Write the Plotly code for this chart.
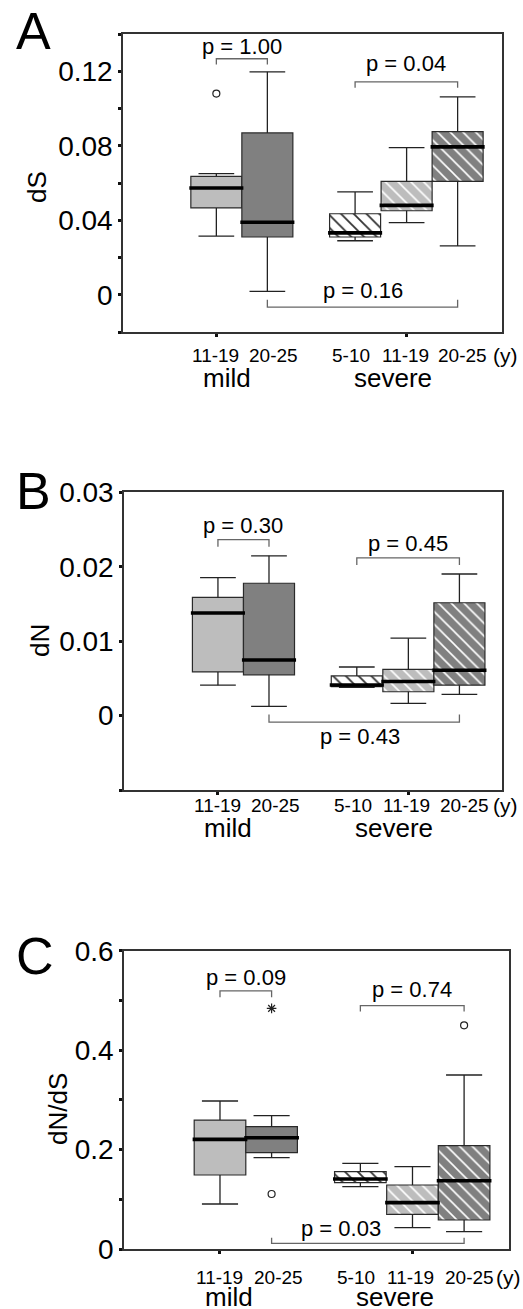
import plotly.graph_objects as go

W, H = 523, 1309
FONT = "Liberation Sans, Arial, sans-serif"

# ---------------- data ----------------
groups = ["mild", "severe"]
age_labels = ["11-19", "20-25", "5-10", "11-19", "20-25"]
unit_label = "(y)"
positions = [0, 1, 2.72, 3.73, 4.73]
group_tick_pos = [0, 3.73]

# panel A: dS
dS_low = [0.0315, 0.0018, 0.0290, 0.0387, 0.0262]
dS_q1 = [0.0466, 0.0310, 0.0310, 0.0451, 0.0609]
dS_med = [0.0573, 0.0389, 0.0332, 0.0480, 0.0794]
dS_q3 = [0.0636, 0.0869, 0.0435, 0.0609, 0.0876]
dS_high = [0.0650, 0.1197, 0.0552, 0.0790, 0.1062]
dS_out_idx = [0]
dS_out_val = [0.108]
dS_ext_idx = []
dS_ext_val = []
dS_ticks = [0, 0.04, 0.08, 0.12]
dS_ticktext = ["0", "0.04", "0.08", "0.12"]
dS_p = ["p = 1.00", "p = 0.04", "p = 0.16"]

# panel B: dN
dN_low = [0.00409, 0.00124, 0.00378, 0.00164, 0.00284]
dN_q1 = [0.00587, 0.00547, 0.00390, 0.00320, 0.00409]
dN_med = [0.01378, 0.00747, 0.00410, 0.00458, 0.00609]
dN_q3 = [0.01587, 0.01778, 0.00533, 0.00622, 0.01516]
dN_high = [0.01853, 0.02147, 0.00653, 0.01040, 0.01902]
dN_out_idx = []
dN_out_val = []
dN_ext_idx = []
dN_ext_val = []
dN_ticks = [0, 0.01, 0.02, 0.03]
dN_ticktext = ["0", "0.01", "0.02", "0.03"]
dN_p = ["p = 0.30", "p = 0.45", "p = 0.43"]

# panel C: dN/dS
r_low = [0.0905, 0.1837, 0.1254, 0.0429, 0.0349]
r_q1 = [0.1488, 0.1937, 0.1334, 0.0697, 0.0583]
r_med = [0.2206, 0.2239, 0.1408, 0.0932, 0.1374]
r_q3 = [0.2594, 0.2460, 0.1555, 0.1287, 0.2078]
r_high = [0.2977, 0.2682, 0.1723, 0.1656, 0.3500]
r_out_idx = [1, 4]
r_out_val = [0.1106, 0.4498]
r_ext_idx = [1]
r_ext_val = [0.484]
r_ticks = [0, 0.2, 0.4, 0.6]
r_ticktext = ["0", "0.2", "0.4", "0.6"]
r_p = ["p = 0.09", "p = 0.74", "p = 0.03"]

# ---------------- styles ----------------
fills = ["#bdbdbd", "#808080", "#ffffff", "#bdbdbd", "#808080"]
hatch = ["", "", "\\", "\\", "\\"]
hatch_fg = ["#bdbdbd", "#808080", "#333333", "#ffffff", "#ffffff"]
hatch_sol = [0.2, 0.2, 0.2, 0.18, 0.18]
bracket_pairs = [(0, 1), (2, 4), (1, 4)]


def px(x):
    return x / W


def py(y):
    return 1 - y / H


panels = [
    dict(letter="A", title="dS", low=dS_low, q1=dS_q1, med=dS_med, q3=dS_q3, high=dS_high,
         out_idx=dS_out_idx, out_val=dS_out_val, ext_idx=dS_ext_idx, ext_val=dS_ext_val,
         ticks=dS_ticks, ticktext=dS_ticktext, minor=[-0.02, 0.02, 0.06, 0.10, 0.14],
         yrange=[-0.02, 0.14], xrange=[-1.83, 5.6],
         xdom=[123, 502], ydom=[34, 332],
         p=dS_p, bar_y=[0.1267, 0.1143, -0.0066], leg_y=[0.1236, 0.1111, -0.0027],
         p_y=[0.1335, 0.124, 0.0024], p_x=[0.5, 3.725, 2.87],
         letter_xy=(33, 31), title_xy=(37, 187), lab_y=355, grp_y=378, grp_x=[0.2, 3.46]),
    dict(letter="B", title="dN", low=dN_low, q1=dN_q1, med=dN_med, q3=dN_q3, high=dN_high,
         out_idx=dN_out_idx, out_val=dN_out_val, ext_idx=dN_ext_idx, ext_val=dN_ext_val,
         ticks=dN_ticks, ticktext=dN_ticktext, minor=[-0.01],
         yrange=[-0.01, 0.03], xrange=[-1.84, 5.57],
         xdom=[124, 502.3], ydom=[492.3, 790],
         p=dN_p, bar_y=[0.02365, 0.0212, -0.00088], leg_y=[0.02267, 0.02023, 0.00013],
         p_y=[0.02556, 0.02312, -0.0028], p_x=[0.5, 3.725, 2.79],
         letter_xy=(33, 491), title_xy=(40, 641), lab_y=805, grp_y=828, grp_x=[0.2, 3.44]),
    dict(letter="C", title="dN/dS", low=r_low, q1=r_q1, med=r_med, q3=r_q3, high=r_high,
         out_idx=r_out_idx, out_val=r_out_val, ext_idx=r_ext_idx, ext_val=r_ext_val,
         ticks=r_ticks, ticktext=r_ticktext, minor=[0.1, 0.3, 0.5],
         yrange=[0, 0.6], xrange=[-1.86, 5.6],
         xdom=[124, 509], ydom=[950.7, 1249],
         p=r_p, bar_y=[0.519, 0.4896, 0.0114], leg_y=[0.5064, 0.4775, 0.0228],
         p_y=[0.5466, 0.521, 0.0416], p_x=[0.51, 3.72, 2.35],
         letter_xy=(35, 956), title_xy=(58, 1109), lab_y=1277, grp_y=1297, grp_x=[0.17, 3.39]),
]

lab_dx = [-0.01, 0.13, -0.08, -0.03, 0.10]
unit_px = [505, 505, 508]

fig = go.Figure()
annotations = []
layout_axes = {}

for k, P in enumerate(panels, start=1):
    xa = "x" if k == 1 else f"x{k}"
    ya = "y" if k == 1 else f"y{k}"
    xkey = "xaxis" if k == 1 else f"xaxis{k}"
    ykey = "yaxis" if k == 1 else f"yaxis{k}"

    # boxes (IQR) as bars, one trace per box
    for i, p in enumerate(positions):
        pat = dict(shape=hatch[i], fgcolor=hatch_fg[i], bgcolor=fills[i],
                   size=9, solidity=hatch_sol[i], fillmode="overlay", fgopacity=1)
        fig.add_trace(go.Bar(
            x=[p], y=[P["q3"][i] - P["q1"][i]], base=[P["q1"][i]],
            width=1.0, xaxis=xa, yaxis=ya, showlegend=False, hoverinfo="skip",
            marker=dict(color=fills[i], line=dict(color="#2a2a2a", width=1.2),
                        pattern=pat),
        ))

    # whiskers
    wx, wy = [], []
    for i, p in enumerate(positions):
        wx += [p, p, None, p, p, None, p - 0.35, p + 0.35, None, p - 0.35, p + 0.35, None]
        wy += [P["low"][i], P["q1"][i], None, P["q3"][i], P["high"][i], None,
               P["low"][i], P["low"][i], None, P["high"][i], P["high"][i], None]
    fig.add_trace(go.Scatter(x=wx, y=wy, mode="lines", xaxis=xa, yaxis=ya,
                             line=dict(color="#222222", width=1.3),
                             showlegend=False, hoverinfo="skip"))

    # medians
    mx, my = [], []
    for i, p in enumerate(positions):
        mx += [p - 0.53, p + 0.53, None]
        my += [P["med"][i], P["med"][i], None]
    fig.add_trace(go.Scatter(x=mx, y=my, mode="lines", xaxis=xa, yaxis=ya,
                             line=dict(color="#000000", width=3.6),
                             showlegend=False, hoverinfo="skip"))

    # outliers
    if P["out_idx"]:
        fig.add_trace(go.Scatter(x=[positions[i] for i in P["out_idx"]], y=P["out_val"],
                                 mode="markers", xaxis=xa, yaxis=ya,
                                 marker=dict(symbol="circle-open", size=7, color="#222222",
                                             line=dict(width=1.2)),
                                 showlegend=False, hoverinfo="skip"))
    if P["ext_idx"]:
        fig.add_trace(go.Scatter(x=[positions[i] for i in P["ext_idx"]], y=P["ext_val"],
                                 mode="markers", xaxis=xa, yaxis=ya,
                                 marker=dict(symbol="asterisk-open", size=8, color="#222222",
                                             line=dict(width=1.2)),
                                 showlegend=False, hoverinfo="skip"))

    # brackets
    bx, by = [], []
    for (i, j), yb, yl in zip(bracket_pairs, P["bar_y"], P["leg_y"]):
        bx += [positions[i], positions[i], positions[j], positions[j], None]
        by += [yl, yb, yb, yl, None]
    fig.add_trace(go.Scatter(x=bx, y=by, mode="lines", xaxis=xa, yaxis=ya,
                             line=dict(color="#666666", width=1.3),
                             showlegend=False, hoverinfo="skip"))
    for txt, tx, ty in zip(P["p"], P["p_x"], P["p_y"]):
        annotations.append(dict(x=tx, y=ty, xref=xa, yref=ya, text=txt, showarrow=False,
                                font=dict(size=22, color="#000000", family=FONT),
                                xanchor="center", yanchor="middle"))

    # x category labels
    for lab, p, dx in zip(age_labels, positions, lab_dx):
        annotations.append(dict(x=p + dx, y=py(P["lab_y"]), xref=xa, yref="paper", text=lab,
                                showarrow=False, font=dict(size=19, color="#000000", family=FONT),
                                xanchor="center", yanchor="middle"))
    annotations.append(dict(x=px(unit_px[k - 1]), y=py(P["lab_y"]), xref="paper", yref="paper",
                            text=unit_label, showarrow=False,
                            font=dict(size=21, color="#000000", family=FONT),
                            xanchor="center", yanchor="middle"))
    for g, gx in zip(groups, P["grp_x"]):
        annotations.append(dict(x=gx, y=py(P["grp_y"]), xref=xa, yref="paper", text=g,
                                showarrow=False, font=dict(size=26, color="#000000", family=FONT),
                                xanchor="center", yanchor="middle"))

    # panel letter & axis title
    lx, ly = P["letter_xy"]
    annotations.append(dict(x=px(lx), y=py(ly), xref="paper", yref="paper", text=P["letter"],
                            showarrow=False, font=dict(size=52, color="#000000", family=FONT),
                            xanchor="center", yanchor="middle"))
    tx, ty = P["title_xy"]
    annotations.append(dict(x=px(tx), y=py(ty), xref="paper", yref="paper", text=P["title"],
                            showarrow=False, textangle=-90,
                            font=dict(size=26, color="#000000", family=FONT),
                            xanchor="center", yanchor="middle"))

    layout_axes[xkey] = dict(
        domain=[px(P["xdom"][0]), px(P["xdom"][1])], range=P["xrange"],
        anchor=ya, showgrid=False, zeroline=False, showline=True, mirror=True,
        linecolor="#333333", linewidth=1.5, automargin=False,
        tickvals=group_tick_pos, ticktext=["", ""], ticks="outside", ticklen=3,
        tickwidth=2.5, tickcolor="#111111",
    )
    layout_axes[ykey] = dict(
        domain=[py(P["ydom"][1]), py(P["ydom"][0])], range=P["yrange"],
        anchor=xa, showgrid=False, zeroline=False, showline=True, mirror=True,
        linecolor="#333333", linewidth=1.5, automargin=False,
        tickvals=P["ticks"], ticktext=P["ticktext"], ticks="outside", ticklen=3,
        tickwidth=2.5, tickcolor="#111111",
        tickfont=dict(size=28, color="#000000", family=FONT),
        minor=dict(tickvals=P["minor"], ticks="outside", ticklen=3, tickwidth=2.5,
                   tickcolor="#111111", showgrid=False),
    )

fig.update_layout(
    width=W, height=H, margin=dict(l=0, r=0, t=0, b=0, pad=0, autoexpand=False),
    paper_bgcolor="white", plot_bgcolor="white", barmode="overlay",
    showlegend=False, annotations=annotations, font=dict(family=FONT),
    **layout_axes,
)

fig.write_html("out.html")
